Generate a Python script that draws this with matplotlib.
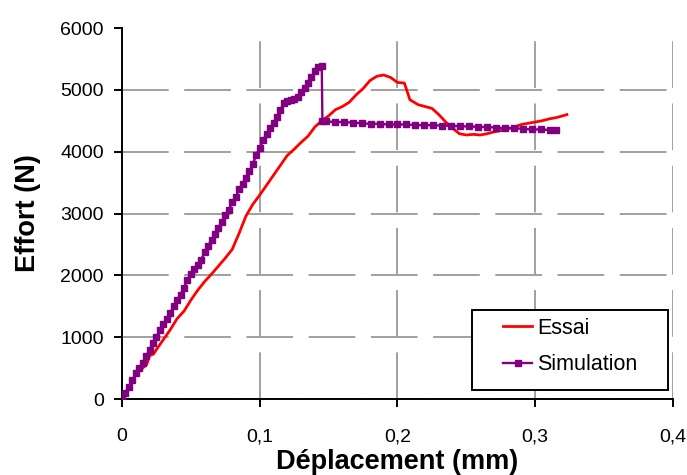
import matplotlib
matplotlib.use("Agg")
import matplotlib.pyplot as plt
from matplotlib.patches import Rectangle

plt.rcParams['font.family'] = ['Liberation Sans', 'DejaVu Sans']

# Essai (mesure)
x_essai = [0.015, 0.018, 0.02, 0.023, 0.025, 0.03, 0.035, 0.04, 0.045, 0.05,
           0.055, 0.06, 0.065, 0.07, 0.075, 0.08, 0.085, 0.09, 0.095, 0.1,
           0.105, 0.11, 0.115, 0.12, 0.125, 0.13, 0.135, 0.14, 0.145, 0.15,
           0.155, 0.16, 0.165, 0.17, 0.175, 0.18, 0.185, 0.19, 0.195, 0.2,
           0.205, 0.209, 0.215, 0.22, 0.225, 0.23, 0.235, 0.24, 0.245, 0.25,
           0.255, 0.26, 0.265, 0.27, 0.275, 0.28, 0.285, 0.29, 0.295, 0.3,
           0.305, 0.31, 0.315, 0.32, 0.323]
y_essai = [500, 560, 700, 730, 800, 960, 1120, 1300, 1420, 1600,
           1760, 1900, 2020, 2150, 2280, 2420, 2680, 2960, 3150, 3300,
           3460, 3620, 3780, 3940, 4040, 4150, 4250, 4400, 4500, 4580,
           4680, 4730, 4800, 4920, 5020, 5150, 5220, 5240, 5200, 5120,
           5110, 4840, 4760, 4730, 4700, 4600, 4480, 4380, 4290, 4270,
           4280, 4270, 4290, 4320, 4340, 4370, 4400, 4440, 4460, 4480,
           4500, 4530, 4550, 4580, 4600]

# Simulation
x_sim = [0, 0.0025, 0.005, 0.0075, 0.01, 0.0125, 0.015, 0.0175, 0.02, 0.0225,
         0.025, 0.0275, 0.03, 0.0325, 0.035, 0.0375, 0.04, 0.0425, 0.045, 0.0475,
         0.05, 0.0525, 0.055, 0.0575, 0.06, 0.0625, 0.065, 0.0675, 0.07, 0.0725,
         0.075, 0.0775, 0.08, 0.0825, 0.085, 0.0875, 0.09, 0.0925, 0.095, 0.0975,
         0.1, 0.1025, 0.105, 0.1075, 0.11, 0.1125, 0.115, 0.1175, 0.12, 0.1225,
         0.125, 0.1275, 0.13, 0.1325, 0.135, 0.1375, 0.14, 0.1425, 0.145, 0.1455,
         0.148, 0.1545, 0.161, 0.1675, 0.174, 0.1805, 0.187, 0.1935, 0.2, 0.2065,
         0.213, 0.2195, 0.226, 0.2325, 0.239, 0.2455, 0.252, 0.2585, 0.265, 0.2715,
         0.278, 0.2845, 0.291, 0.2975, 0.304, 0.3105, 0.315]
y_sim = [0, 100, 200, 300, 420, 500, 580, 690, 800, 900,
         1010, 1110, 1210, 1300, 1390, 1500, 1600, 1690, 1800, 1920,
         2020, 2100, 2160, 2250, 2380, 2480, 2570, 2670, 2770, 2870,
         2970, 3060, 3180, 3270, 3390, 3480, 3580, 3680, 3800, 3950,
         4060, 4190, 4290, 4380, 4460, 4560, 4680, 4790, 4820, 4840,
         4860, 4890, 4960, 5030, 5110, 5200, 5310, 5370, 5380, 4490,
         4490, 4480, 4480, 4470, 4460, 4450, 4450, 4440, 4440, 4440,
         4430, 4430, 4430, 4420, 4420, 4410, 4410, 4400, 4400, 4390,
         4380, 4380, 4370, 4360, 4360, 4350, 4350]

x_ticks = [0, 0.1, 0.2, 0.3, 0.4]
x_ticklabels = ['0', '0,1', '0,2', '0,3', '0,4']
y_ticks = [0, 1000, 2000, 3000, 4000, 5000, 6000]

fig = plt.figure(figsize=(6.87, 4.75), dpi=100)
ax = fig.add_axes([0.1776, 0.16, 0.802, 0.781])

ax.plot(x_essai, y_essai, '-', color='#ff0000', lw=2.0, label='Essai', zorder=3)
ax.plot(x_sim, y_sim, '-s', color='#800080', lw=1.7, ms=4.0, label='Simulation', zorder=4)

ax.set_xlim(0, 0.4)
ax.set_ylim(0, 6000)
ax.set_xticks(x_ticks)
ax.set_xticklabels(x_ticklabels)
ax.set_yticks(y_ticks)
ax.tick_params(labelsize=14, length=6, width=1.4, colors='black')
ax.tick_params(axis='x', pad=15)
ax.tick_params(axis='y', pad=7)

ax.grid(True, color='#a0a0a0', lw=1.4, linestyle=(0, (24, 8)))
ax.yaxis.get_gridlines()[-1].set_visible(False)
ax.set_axisbelow(True)

for s in ['top', 'right']:
    ax.spines[s].set_visible(False)
for s in ['left', 'bottom']:
    ax.spines[s].set_linewidth(1.4)

ax.set_xlabel('Déplacement (mm)', fontsize=19.5, fontweight='bold')
ax.set_ylabel('Effort (N)', fontsize=19.5, fontweight='bold')
ax.xaxis.set_label_coords(397 / 687, 1 - 449 / 475, transform=fig.transFigure)
ax.yaxis.set_label_coords(41 / 687, 1 - 213 / 475, transform=fig.transFigure)

# cadre de la légende
box = Rectangle((472 / 687, 1 - 390 / 475), 196 / 687, 80 / 475,
                transform=fig.transFigure, facecolor='white', edgecolor='black',
                lw=1.4, zorder=5, clip_on=False)
ax.add_patch(box)

leg = ax.legend(loc='upper left', bbox_to_anchor=(503 / 687, 1 - 318 / 475),
                bbox_transform=fig.transFigure, fontsize=15.5, frameon=False,
                borderpad=0, borderaxespad=0, handlelength=1.35,
                labelspacing=0.7, handletextpad=0.25)
leg.set_zorder(6)

fig.savefig('out.png', dpi=100)
